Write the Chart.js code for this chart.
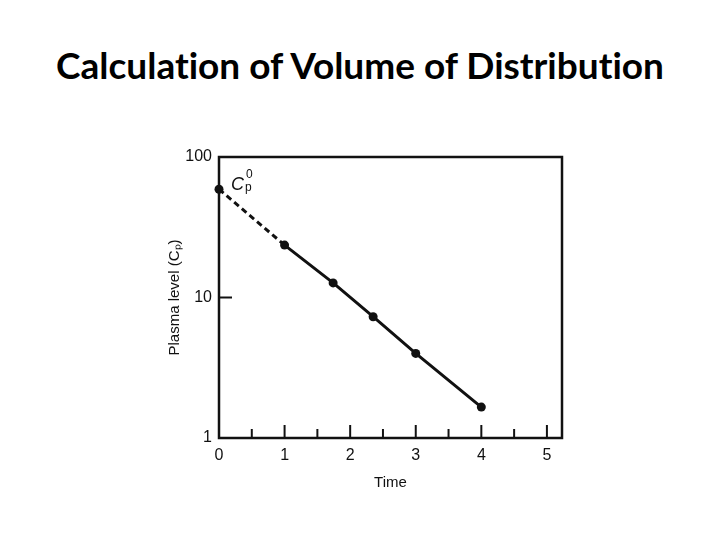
<!DOCTYPE html>
<html><head><meta charset="utf-8">
<script src="https://cdn.jsdelivr.net/npm/chart.js@4"></script>
<style>
html,body{margin:0;padding:0;background:#fff;}
#wrap{position:relative;width:720px;height:540px;}
#title{position:absolute;left:0;top:43px;width:720px;text-align:center;font-family:Lato,"Open Sans",sans-serif;font-weight:bold;font-size:37px;line-height:44px;color:#000;margin:0;font-variant-ligatures:none;font-feature-settings:"liga" 0;}
canvas{position:absolute;left:0;top:0;}
</style></head>
<body>
<div id="wrap">
<h1 id="title">Calculation of Volume of Distribution</h1>
<canvas id="c" width="720" height="540"></canvas>
</div>
<script>
const times = [0, 1, 1.74, 2.35, 3, 4];
const plasma = [59, 23.6, 12.7, 7.3, 4.0, 1.66];
const yTickValues = [1, 10, 100];
const xTickLabels = ['0', '1', '2', '3', '4', '5'];
const xLabel = 'Time';
const yLabel = 'Plasma level (Cₚ)';

const ink = '#111';
const axisFont = {family: '"Liberation Sans", Arial, sans-serif', size: 16};

const framePlugin = {
  id: 'frame',
  afterDatasetsDraw(chart) {
    const {ctx, chartArea: a, scales} = chart;
    ctx.save();
    ctx.strokeStyle = ink;
    ctx.lineWidth = 2.5;
    ctx.strokeRect(a.left, a.top, a.right - a.left, a.bottom - a.top);
    // inward x ticks every 0.5
    ctx.lineWidth = 2;
    for (let v = 0.5; v <= 5.01; v += 0.5) {
      const px = scales.x.getPixelForValue(v);
      const major = Math.abs(v - Math.round(v)) < 1e-6;
      ctx.beginPath();
      ctx.moveTo(px, a.bottom);
      ctx.lineTo(px, a.bottom - (major ? 13 : 9));
      ctx.stroke();
    }
    // inward y tick at 10
    const py = scales.y.getPixelForValue(10);
    ctx.beginPath();
    ctx.moveTo(a.left, py);
    ctx.lineTo(a.left + 13, py);
    ctx.stroke();
    // C_p^0 annotation
    const p0x = scales.x.getPixelForValue(times[0]);
    const p0y = scales.y.getPixelForValue(plasma[0]);
    ctx.fillStyle = ink;
    ctx.textBaseline = 'alphabetic';
    ctx.font = 'italic 18px "Liberation Sans", sans-serif';
    ctx.fillText('C', p0x + 12, p0y + 1);
    ctx.font = '12px "Liberation Sans", sans-serif';
    ctx.fillText('0', p0x + 27, p0y - 11);
    ctx.fillText('p', p0x + 26, p0y + 2);
    ctx.restore();
  }
};

new Chart(document.getElementById('c'), {
  type: 'scatter',
  data: {
    datasets: [{
      data: times.map((t, i) => ({x: t, y: plasma[i]})),
      showLine: true,
      clip: false,
      borderColor: ink,
      backgroundColor: ink,
      borderWidth: 3,
      pointRadius: 4.5,
      pointHoverRadius: 4.5,
      pointBackgroundColor: ink,
      pointBorderWidth: 0,
      segment: {
        borderDash: c => c.p0DataIndex === 0 ? [6, 4] : undefined
      }
    }]
  },
  options: {
    responsive: false,
    animation: false,
    layout: {padding: {left: 166, right: 158, top: 157, bottom: 48}},
    plugins: {legend: {display: false}, tooltip: {enabled: false}},
    scales: {
      x: {
        type: 'linear', min: 0, max: 5.23,
        afterFit(s) { s.height = 54; },
        afterBuildTicks(s) { s.ticks = xTickLabels.map(v => ({value: Number(v)})); },
        ticks: {color: ink, font: axisFont, padding: 8,
          callback: v => xTickLabels.includes(String(v)) ? String(v) : ''},
        grid: {display: false, drawTicks: false},
        border: {display: false},
        title: {display: true, text: xLabel, color: ink,
          font: {family: '"Liberation Sans", Arial, sans-serif', size: 15}, padding: {top: 0, bottom: 0}}
      },
      y: {
        type: 'logarithmic', min: 1, max: 100,
        afterFit(s) { s.width = 53; },
        afterBuildTicks(s) { s.ticks = yTickValues.map(v => ({value: v})); },
        ticks: {color: ink, font: axisFont, padding: 7, callback: v => String(v)},
        grid: {display: false, drawTicks: false},
        border: {display: false},
        title: {display: true, text: yLabel, color: ink,
          font: {family: '"Liberation Sans", Arial, sans-serif', size: 15}, padding: {top: 0, bottom: 0}}
      }
    }
  },
  plugins: [framePlugin]
});
</script>
</body></html>
